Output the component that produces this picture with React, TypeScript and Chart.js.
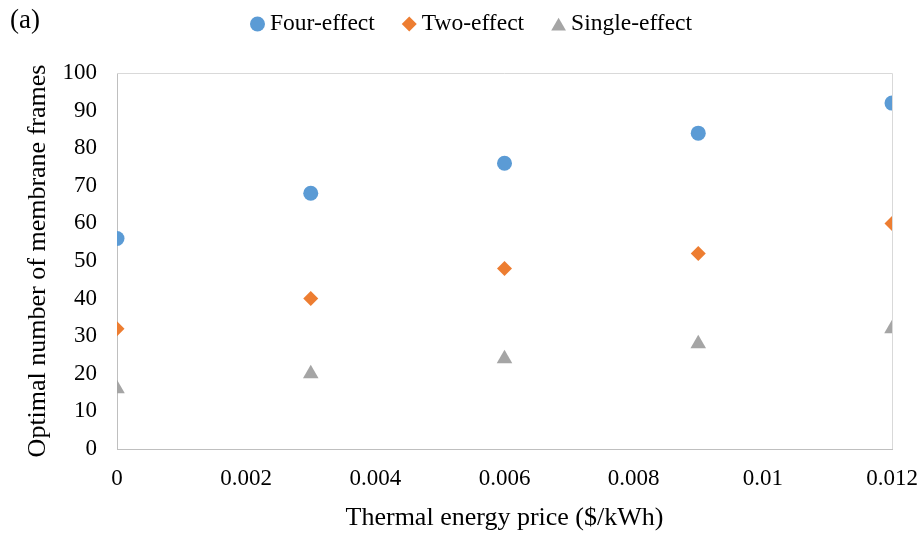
import React, { useEffect, useRef } from "react";
import { Chart, registerables } from "chart.js";

Chart.register(...registerables);

const xValues = [0, 0.003, 0.006, 0.009, 0.012];
const fourEffect = [56, 68, 76, 84, 92];
const twoEffect = [32, 40, 48, 52, 60];
const singleEffect = [16, 20, 24, 28, 32];
const seriesNames = ["Four-effect", "Two-effect", "Single-effect"];
const xTitle = "Thermal energy price ($/kWh)";
const yTitle = "Optimal number of membrane frames";
const panelLabel = "(a)";

const FONT = "'Liberation Serif', 'Times New Roman', serif";
const COLORS = ["#5B9BD5", "#ED7D31", "#A5A5A5"];
const STYLES = ["circle", "rectRot", "triangle"];
const RADII = [7.5, 7.5, 9];

function drawMarker(ctx: CanvasRenderingContext2D, style: string, x: number, y: number, r: number, color: string) {
  ctx.save();
  ctx.fillStyle = color;
  ctx.beginPath();
  if (style === "circle") {
    ctx.arc(x, y, r, 0, Math.PI * 2);
  } else if (style === "rectRot") {
    ctx.moveTo(x - r, y);
    ctx.lineTo(x, y - r);
    ctx.lineTo(x + r, y);
    ctx.lineTo(x, y + r);
    ctx.closePath();
  } else {
    const h = r * 1.5;
    const w = r * 1.732;
    ctx.moveTo(x, y - h / 2);
    ctx.lineTo(x + w / 2, y + h / 2);
    ctx.lineTo(x - w / 2, y + h / 2);
    ctx.closePath();
  }
  ctx.fill();
  ctx.restore();
}

const decorPlugin = {
  id: "decor",
  beforeDatasetsDraw(chart: any) {
    const { ctx, chartArea } = chart;
    ctx.save();
    ctx.strokeStyle = "#D9D9D9";
    ctx.lineWidth = 1;
    ctx.beginPath();
    const top = Math.round(chartArea.top) + 0.5;
    const right = Math.round(chartArea.right) + 0.5;
    ctx.moveTo(chartArea.left, top);
    ctx.lineTo(right, top);
    ctx.lineTo(right, chartArea.bottom);
    ctx.stroke();
    ctx.restore();
  },
  afterDraw(chart: any) {
    const { ctx } = chart;
    ctx.save();
    // panel label
    ctx.fillStyle = "#000";
    ctx.font = `27px ${FONT}`;
    ctx.textBaseline = "middle";
    ctx.textAlign = "left";
    ctx.fillText(panelLabel, 10, 21);
    // legend
    ctx.font = `23.5px ${FONT}`;
    const slot = 15;
    const gap = 5;
    const spacing = 27;
    const widths = seriesNames.map((n) => ctx.measureText(n).width);
    const total = widths.reduce((a, w) => a + slot + gap + w, 0) + spacing * (seriesNames.length - 1);
    let x = 471 - total / 2;
    const y = 24;
    chart.data.datasets.forEach((ds: any, i: number) => {
      drawMarker(ctx, STYLES[i], x + slot / 2, y, i === 2 ? 8.5 : 7.5, COLORS[i]);
      ctx.fillStyle = "#000";
      ctx.fillText(ds.label, x + slot + gap, y);
      x += slot + gap + widths[i] + spacing;
    });
    ctx.restore();
  },
};

export default function App() {
  const ref = useRef<HTMLCanvasElement | null>(null);
  useEffect(() => {
    if (!ref.current) return;
    const mk = (vals: number[]) => vals.map((v, i) => ({ x: xValues[i], y: v }));
    const series = [fourEffect, twoEffect, singleEffect];
    const chart = new Chart(ref.current, {
      type: "scatter",
      data: {
        datasets: series.map((s, i) => ({
          label: seriesNames[i],
          data: mk(s),
          pointStyle: STYLES[i] as any,
          pointRadius: RADII[i],
          pointBackgroundColor: COLORS[i],
          pointBorderColor: COLORS[i],
          pointBorderWidth: 0,
          backgroundColor: COLORS[i],
          borderColor: COLORS[i],
        })),
      },
      options: {
        animation: false,
        responsive: false,
        maintainAspectRatio: false,
        layout: { padding: { top: 73, right: 30, bottom: 0, left: 0 } },
        plugins: {
          legend: { display: false },
          tooltip: { enabled: false },
        },
        scales: {
          x: {
            type: "linear",
            min: 0,
            max: 0.012,
            grid: { display: false, drawTicks: false },
            border: { display: true, color: "#BFBFBF", width: 1 },
            ticks: {
              stepSize: 0.002,
              padding: 16,
              color: "#000",
              font: { family: FONT, size: 23 },
              maxRotation: 0,
              callback: (v: any) => String(+Number(v).toFixed(4)),
            },
            title: {
              display: true,
              text: xTitle,
              color: "#000",
              font: { family: FONT, size: 26 },
              padding: { top: 3, bottom: 0 },
            },
            afterFit: (scale: any) => {
              scale.height = 85;
              scale.paddingLeft = 0;
              scale.paddingRight = 0;
            },
          },
          y: {
            type: "linear",
            min: 0,
            max: 100,
            grid: { display: false, drawTicks: false },
            border: { display: true, color: "#BFBFBF", width: 1 },
            ticks: {
              stepSize: 10,
              padding: 20,
              color: "#000",
              font: { family: FONT, size: 23 },
            },
            title: {
              display: true,
              text: yTitle,
              color: "#000",
              font: { family: FONT, size: 26 },
              padding: { top: 23, bottom: 0 },
            },
            afterFit: (scale: any) => {
              scale.width = 117;
              scale.paddingTop = 0;
              scale.paddingBottom = 0;
            },
          },
        },
      },
      plugins: [decorPlugin],
    });
    return () => chart.destroy();
  }, []);
  return (
    <div style={{ position: "absolute", left: 0, top: 0, width: 922, height: 534, background: "#fff" }}>
      <canvas ref={ref} width={922} height={534} />
    </div>
  );
}
